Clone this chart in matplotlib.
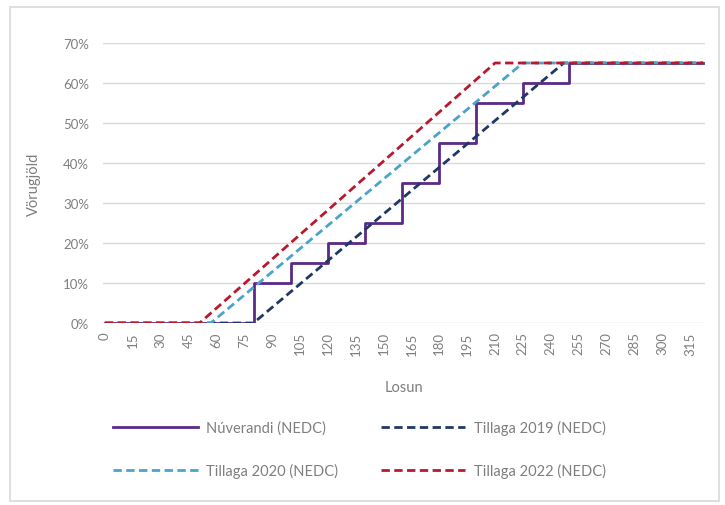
import matplotlib
matplotlib.use("Agg")
import matplotlib.pyplot as plt
from matplotlib.patches import Rectangle

# ---- data ----
current_x = [0, 80, 100, 120, 140, 160, 180, 200, 225, 250, 322]
current_y = [0, 10, 15, 20, 25, 35, 45, 55, 60, 65, 65]

t2019_x = [0, 80, 247, 322]
t2019_y = [0, 0, 65, 65]
t2020_x = [0, 57, 225, 322]
t2020_y = [0, 0, 65, 65]
t2022_x = [0, 51, 210, 322]
t2022_y = [0, 0, 65, 65]

xticks = list(range(0, 316, 15))
yticks = [0, 10, 20, 30, 40, 50, 60, 70]

labels = ["Núverandi (NEDC)", "Tillaga 2019 (NEDC)", "Tillaga 2020 (NEDC)", "Tillaga 2022 (NEDC)"]
colors = ["#5a2a86", "#1f3864", "#4aa3c8", "#b8192e"]

plt.rcParams['font.family'] = ['Lato', 'DejaVu Sans']

W, H = 725, 506
fig = plt.figure(figsize=(W / 100, H / 100), dpi=100)
fig.patches.append(Rectangle((10 / W, 4 / H), 709 / W, 494 / H, transform=fig.transFigure,
                             fill=False, edgecolor="#d9d9d9", linewidth=1.2))

ax = fig.add_axes([103 / W, 1 - 324 / H, (705 - 103) / W, (324 - 44) / H])

dash = (0, (3.0, 1.6))
l0, = ax.plot(current_x, current_y, drawstyle='steps-post', color=colors[0], lw=2.0, zorder=3)
l1, = ax.plot(t2019_x, t2019_y, color=colors[1], lw=2.0, linestyle=dash, zorder=4)
l2, = ax.plot(t2020_x, t2020_y, color=colors[2], lw=2.0, linestyle=dash, zorder=4)
l3, = ax.plot(t2022_x, t2022_y, color=colors[3], lw=2.0, linestyle=dash, zorder=5)

ax.set_xlim(-1, 323)
ax.set_ylim(0, 70)
ax.set_yticks(yticks)
ax.set_yticklabels([f"{v}%" for v in yticks])
ax.set_xticks(xticks)
ax.set_xticklabels([str(v) for v in xticks], rotation=90)
ax.yaxis.grid(True, color="#d9d9d9", lw=1)
ax.set_axisbelow(True)
for s in ax.spines.values():
    s.set_visible(False)
ax.tick_params(axis='both', length=0, labelsize=9.5, colors="#7f7f7f")
ax.tick_params(axis='y', pad=10)
ax.tick_params(axis='x', pad=6)

ax.set_xlabel("Losun", fontsize=10.5, color="#7f7f7f", labelpad=18)
ax.set_ylabel("Vörugjöld", fontsize=10.5, color="#7f7f7f", labelpad=16)

leg = fig.legend([l0, l2, l1, l3], [labels[0], labels[2], labels[1], labels[3]],
                 ncol=2, loc='upper left', bbox_to_anchor=(100 / W, 1 - 408 / H),
                 frameon=False, fontsize=10.5, handlelength=5.8, handletextpad=0.6,
                 columnspacing=2.9, labelspacing=1.9, labelcolor="#7f7f7f")

fig.savefig("out.png", dpi=100, facecolor="white")
